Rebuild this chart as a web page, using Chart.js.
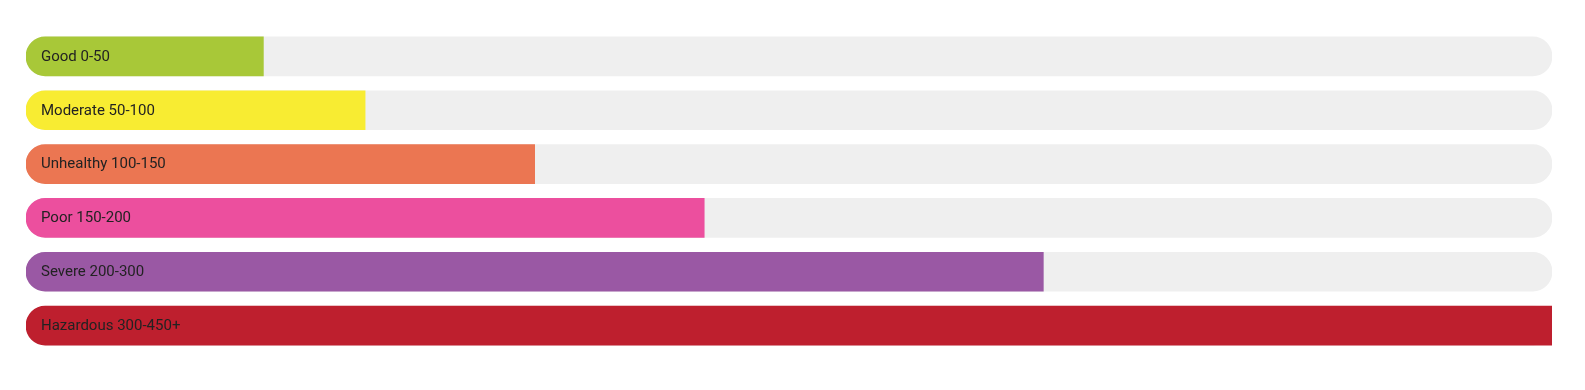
<!DOCTYPE html>
<html>
<head>
<meta charset="utf-8">
<script src="https://cdn.jsdelivr.net/npm/chart.js@4"></script>
<style>
  html, body { margin: 0; padding: 0; background: #ffffff; }
  canvas { display: block; }
</style>
</head>
<body>
<canvas id="aqi-chart" width="1585" height="390"></canvas>
<script>
// ===== Data =====
const categories = ['Good 0-50', 'Moderate 50-100', 'Unhealthy 100-150', 'Poor 150-200', 'Severe 200-300', 'Hazardous 300-450+'];
const levelValues = [70, 100, 150, 200, 300, 450];
const trackValues = [450, 450, 450, 450, 450, 450];
const levelColors = ['#a8c838', '#f8ec32', '#eb7652', '#ec4f9e', '#9a58a4', '#be1f2e'];
const scaleMax = 450;

// ===== Label plugin =====
const insideLabels = {
  id: 'insideLabels',
  afterDatasetsDraw(chart) {
    const { ctx, scales } = chart;
    ctx.save();
    ctx.font = '15px Roboto';
    ctx.fillStyle = '#222222';
    ctx.textAlign = 'left';
    ctx.textBaseline = 'middle';
    categories.forEach((label, index) => {
      const y = scales.y.getPixelForValue(index);
      const x = scales.x.getPixelForValue(0) + 15;
      ctx.fillText(label, x, y + 0.5);
    });
    ctx.restore();
  },
};

// ===== Chart =====
const canvas = document.getElementById('aqi-chart');
new Chart(canvas, {
  type: 'bar',
  data: {
    labels: categories,
    datasets: [
      {
        data: levelValues,
        backgroundColor: levelColors,
        borderWidth: 0,
        borderSkipped: false,
        borderRadius: { topLeft: 20, bottomLeft: 20, topRight: 0, bottomRight: 0 },
        barThickness: 39,
        grouped: false,
      },
      {
        data: trackValues,
        backgroundColor: '#efefef',
        borderWidth: 0,
        borderSkipped: false,
        borderRadius: 20,
        barThickness: 39,
        grouped: false,
      },
    ],
  },
  options: {
    indexAxis: 'y',
    responsive: false,
    animation: false,
    layout: {
      padding: { left: 26, right: 33, top: 29.5, bottom: 37.5 },
    },
    scales: {
      x: { display: false, min: 0, max: scaleMax },
      y: { display: false },
    },
    plugins: {
      legend: { display: false },
      tooltip: { enabled: false },
    },
  },
  plugins: [insideLabels],
});
</script>
</body>
</html>
